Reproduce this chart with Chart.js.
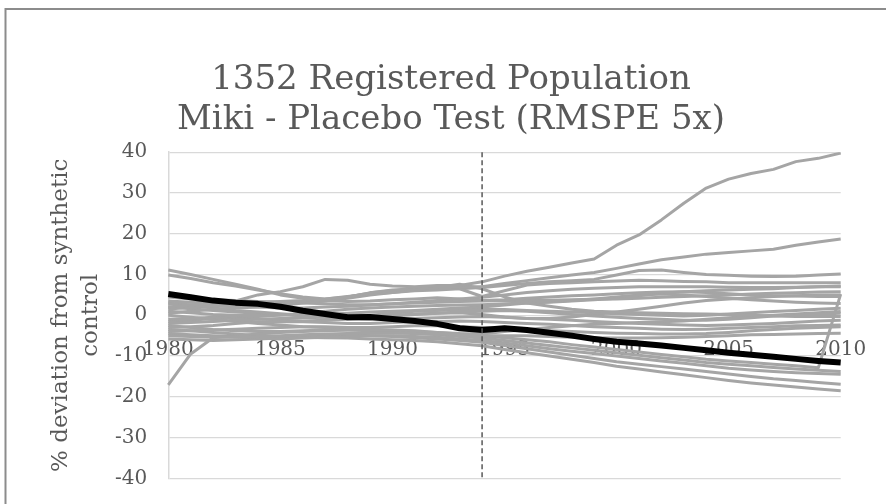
<!DOCTYPE html>
<html>
<head>
<meta charset="utf-8">
<script src="https://cdn.jsdelivr.net/npm/chart.js@4/dist/chart.umd.min.js"></script>
<style>
  html, body { margin: 0; padding: 0; background: #fff; }
  canvas { display: block; }
</style>
</head>
<body>
<canvas id="myChart" width="886" height="504"></canvas>
<script>
// years on the horizontal axis
const years = [];
for (let y = 1980; y <= 2010; y++) years.push(y);

// treatment year, drawn as a dashed marker
const treatmentYear = 1994;

// y axis range / step
const yMin = -40;
const yMax = 40;
const yStep = 10;

// Miki: % deviation from its synthetic control
const miki = [5.2, 4.4, 3.6, 3.1, 2.8, 2.1, 1.1, 0.3, -0.5, -0.4, -0.9, -1.4, -2.1, -3.2, -3.6,
  -3.2, -3.6, -4.3, -5.0, -5.8, -6.5, -6.9, -7.4, -8.0, -8.6, -9.2, -9.7, -10.2, -10.7, -11.2, -11.6];

// placebo units (RMSPE within 5x)
const placebo01 = [2.0, 2.5, 3.0, 3.5, 5.0, 5.8, 7.0, 8.8, 8.6, 7.6, 7.2, 7.0, 7.3, 7.3, 8.2,
  9.6, 10.8, 11.8, 12.8, 13.8, 17.2, 19.7, 23.4, 27.5, 31.2, 33.4, 34.8, 35.8, 37.7, 38.5, 39.8];
const placebo02 = [11.1, 10.0, 8.8, 7.6, 6.4, 5.0, 4.2, 3.6, 3.4, 3.5, 3.8, 4.0, 4.3, 4.0, 3.6,
  3.8, 4.2, 4.5, 4.8, 5.0, 5.3, 5.5, 5.7, 5.8, 6.0, 6.2, 6.4, 6.5, 6.8, 7.0, 7.0];
const placebo03 = [9.9, 9.0, 8.0, 7.2, 6.2, 5.3, 4.5, 4.0, 4.5, 5.5, 6.2, 6.5, 6.8, 7.0, 7.0,
  7.8, 8.5, 9.2, 9.9, 10.5, 11.5, 12.6, 13.6, 14.3, 15.0, 15.4, 15.8, 16.2, 17.2, 18.0, 18.7];
const placebo04 = [3.5, 3.2, 3.0, 3.0, 3.2, 3.4, 3.6, 4.0, 4.6, 5.2, 5.6, 6.0, 6.2, 6.5, 6.8,
  7.3, 7.8, 8.2, 8.5, 8.8, 9.9, 11.0, 11.1, 10.5, 10.0, 9.8, 9.6, 9.5, 9.6, 9.9, 10.1];
const placebo05 = [1.5, 2.0, 2.4, 2.2, 2.6, 3.0, 3.2, 3.5, 4.5, 5.5, 6.0, 6.4, 6.8, 6.5, 4.6,
  6.0, 7.4, 7.8, 8.0, 8.2, 8.4, 8.6, 8.5, 8.3, 8.2, 8.0, 8.0, 8.0, 8.0, 8.0, 8.0];
const placebo06 = [0.5, 1.0, 1.5, 1.8, 2.0, 2.4, 3.0, 3.6, 4.2, 5.0, 5.6, 6.2, 6.8, 7.6, 6.5,
  4.5, 3.0, 2.2, 1.5, 1.0, 0.8, 0.6, 0.5, 0.4, 0.3, 0.2, 0.0, -0.2, -0.3, -0.3, -0.3];
const placebo07 = [2.8, 2.6, 2.4, 2.2, 2.0, 1.8, 1.8, 2.0, 2.2, 2.5, 2.8, 3.0, 3.2, 3.4, 3.5,
  3.6, 3.6, 3.7, 3.8, 3.9, 4.0, 4.2, 4.4, 4.6, 4.8, 5.0, 5.2, 5.4, 5.5, 5.7, 5.8];
const placebo08 = [1.0, 0.6, 0.2, 0.0, -0.2, 0.0, 0.5, 1.0, 1.5, 1.8, 2.0, 2.2, 2.4, 2.5, 2.6,
  2.8, 3.0, 3.2, 3.5, 3.8, 4.2, 4.8, 5.4, 5.8, 5.6, 5.3, 5.0, 4.8, 4.7, 4.6, 4.6];
const placebo09 = [-1.0, -0.8, -0.5, -0.2, 0.0, 0.2, 0.2, 0.3, 0.5, 0.8, 1.0, 1.2, 1.5, 1.8, 2.0,
  2.5, 3.0, 3.3, 3.6, 4.0, 4.5, 5.0, 5.2, 5.0, 4.6, 4.2, 3.8, 3.5, 3.2, 3.0, 2.9];
const placebo10 = [2.0, 1.6, 1.2, 0.8, 0.5, 0.2, -0.2, -0.5, -0.4, 0.0, 0.5, 1.0, 1.2, 1.4, 1.5,
  1.4, 1.2, 1.0, 0.8, 0.6, 0.4, 0.2, 0.0, -0.2, 0.0, 0.3, 0.6, 0.9, 1.2, 1.5, 1.7];
const placebo11 = [-2.0, -1.8, -1.5, -1.2, -1.0, -0.8, -0.6, -0.5, -0.3, -0.2, 0.0, 0.3, 0.5, 0.8, 1.0,
  1.2, 1.0, 0.6, 0.2, -0.2, -0.5, -0.8, -1.0, -1.2, -1.2, -1.0, -0.6, -0.2, 0.1, 0.3, 0.5];
const placebo12 = [3.0, 2.4, 1.8, 1.2, 0.8, 0.4, 0.0, -0.4, -0.8, -1.0, -1.0, -0.8, -0.6, -0.4, -0.3,
  -0.5, -0.8, -1.0, -1.2, -1.5, -1.8, -2.0, -2.2, -2.4, -2.5, -2.4, -2.2, -2.0, -1.7, -1.4, -1.2];
const placebo13 = [-3.0, -2.8, -2.5, -2.0, -1.6, -1.5, -1.6, -1.8, -2.0, -2.0, -1.8, -1.6, -1.5, -1.4, -1.5,
  -1.8, -2.0, -2.2, -2.5, -2.8, -3.0, -3.2, -3.4, -3.5, -3.4, -3.2, -3.0, -2.8, -2.6, -2.5, -2.4];
const placebo14 = [-4.0, -3.8, -3.6, -3.4, -3.2, -3.0, -2.8, -2.8, -3.0, -3.0, -2.8, -2.6, -2.6, -2.8, -3.0,
  -3.2, -3.5, -3.8, -4.0, -4.2, -4.4, -4.5, -4.6, -4.6, -4.5, -4.2, -3.8, -3.5, -3.2, -3.0, -2.8];
const placebo15 = [-5.0, -5.2, -5.4, -5.4, -5.2, -5.0, -4.8, -4.6, -4.5, -4.4, -4.4, -4.5, -4.6, -4.8, -5.0,
  -5.0, -5.0, -5.2, -5.4, -5.5, -5.6, -5.6, -5.5, -5.4, -5.2, -5.0, -4.8, -4.7, -4.6, -4.5, -4.4];
const placebo16 = [-17.1, -9.5, -5.5, -5.0, -4.6, -4.2, -4.0, -3.8, -3.6, -3.6, -3.8, -4.0, -4.2, -4.5, -4.6,
  -4.0, -3.5, -3.0, -2.6, -2.2, -2.0, -1.8, -1.6, -1.4, -1.0, -0.6, -0.3, 0.0, 0.3, 0.6, 0.9];
const placebo17 = [0.0, -0.5, -1.0, -1.5, -2.0, -2.4, -2.8, -3.0, -3.2, -3.4, -3.6, -3.8, -4.2, -4.6, -5.0,
  -5.5, -6.0, -6.5, -7.2, -7.8, -8.4, -9.0, -9.6, -10.2, -10.8, -11.2, -11.6, -12.0, -12.4, -12.9, 5.2];
const placebo18 = [-2.5, -3.0, -3.5, -3.8, -4.0, -4.0, -3.8, -3.6, -3.6, -3.8, -4.0, -4.4, -4.8, -5.2, -5.6,
  -6.2, -6.8, -7.4, -8.0, -8.6, -9.2, -9.8, -10.4, -11.0, -11.6, -12.0, -12.4, -12.8, -13.2, -13.5, -13.8];
const placebo19 = [-4.5, -4.8, -5.0, -5.2, -5.6, -5.8, -5.6, -5.4, -5.2, -5.0, -5.0, -5.2, -5.4, -5.8, -6.2,
  -6.8, -7.5, -8.2, -8.8, -9.4, -10.0, -10.6, -11.2, -11.8, -12.4, -13.0, -13.4, -13.8, -14.1, -14.3, -14.5];
const placebo20 = [-3.5, -3.8, -4.2, -4.6, -5.0, -5.2, -5.0, -4.8, -4.8, -5.0, -5.2, -5.5, -5.8, -6.2, -6.6,
  -7.4, -8.2, -9.0, -9.8, -10.6, -11.4, -12.0, -12.6, -13.2, -13.8, -14.4, -15.0, -15.6, -16.0, -16.5, -16.9];
const placebo21 = [-5.8, -6.0, -6.2, -6.0, -5.8, -5.6, -5.4, -5.5, -5.6, -5.8, -6.0, -6.2, -6.5, -7.0, -7.5,
  -8.4, -9.2, -10.0, -10.8, -11.6, -12.5, -13.2, -13.9, -14.6, -15.3, -16.0, -16.6, -17.1, -17.6, -18.1, -18.5];
const placebo22 = [-1.5, -1.2, -0.8, -0.5, -0.8, -1.2, -1.4, -1.2, -1.0, -0.6, -0.2, 0.2, 0.5, 0.6, 0.2,
  -0.4, -0.8, -0.8, -0.4, 0.2, 0.8, 1.5, 2.2, 3.0, 3.6, 4.0, 4.3, 4.6, 4.8, 5.0, 5.0];
const placebo23 = [4.5, 4.0, 3.8, 3.6, 3.4, 3.2, 3.0, 2.8, 2.6, 2.6, 2.8, 3.2, 3.6, 4.0, 4.4,
  5.0, 5.6, 6.0, 6.4, 6.6, 6.8, 7.0, 7.0, 7.0, 7.0, 6.9, 6.8, 6.8, 6.9, 7.0, 7.2];

const placeboSeries = [placebo01, placebo02, placebo03, placebo04, placebo05, placebo06, placebo07, placebo08,
  placebo09, placebo10, placebo11, placebo12, placebo13, placebo14, placebo15, placebo16, placebo17, placebo18,
  placebo19, placebo20, placebo21, placebo22, placebo23];

const serif = "'DejaVu Serif', 'Liberation Serif', serif";
const textColor = "#595959";
const gridColor = "#d9d9d9";

// Miki first so it sits on top of the grey lines
const datasets = [{
  label: "Miki",
  data: miki,
  borderColor: "#000000",
  borderWidth: 6,
  pointRadius: 0,
  tension: 0,
  borderJoinStyle: "round",
}];
placeboSeries.forEach((vals, i) => {
  datasets.push({
    label: "placebo " + (i + 1),
    data: vals,
    borderColor: "#a5a5a5",
    borderWidth: 3,
    pointRadius: 0,
    tension: 0,
    borderJoinStyle: "round",
  });
});

// dashed vertical marker + the thin frame round the chart
const markerPlugin = {
  id: "treatmentMarker",
  beforeDraw(chart) {
    const ctx = chart.ctx;
    ctx.save();
    ctx.strokeStyle = "#8c8c8c";
    ctx.lineWidth = 2;
    ctx.beginPath();
    ctx.moveTo(5.5, chart.height);
    ctx.lineTo(5.5, 9);
    ctx.lineTo(chart.width, 9);
    ctx.stroke();
    ctx.restore();
  },
  afterDatasetsDraw(chart) {
    const { ctx, chartArea, scales } = chart;
    const x = scales.x.getPixelForValue(years.indexOf(treatmentYear));
    ctx.save();
    ctx.strokeStyle = "#595959";
    ctx.lineWidth = 1.5;
    ctx.setLineDash([5, 3]);
    ctx.beginPath();
    ctx.moveTo(x, chartArea.top);
    ctx.lineTo(x, chartArea.bottom);
    ctx.stroke();
    ctx.restore();
  },
};

const ctx = document.getElementById("myChart").getContext("2d");
const myChart = new Chart(ctx, {
  type: "line",
  data: {
    labels: years,
    datasets: datasets,
  },
  options: {
    responsive: false,
    animation: false,
    events: [],
    layout: { padding: { left: 16, right: 0, top: 0, bottom: 25.7 } },
    plugins: {
      legend: { display: false },
      tooltip: { enabled: false },
      title: {
        display: true,
        text: ["1352 Registered Population", "Miki - Placebo Test (RMSPE 5x)"],
        color: textColor,
        font: { family: serif, size: 34, weight: "normal", lineHeight: 1.18 },
        padding: { top: 60, bottom: 12 },
      },
    },
    scales: {
      x: {
        position: { y: -5 },
        grid: { display: false, drawTicks: false },
        border: { display: false },
        ticks: {
          autoSkip: false,
          maxRotation: 0,
          padding: 2,
          color: textColor,
          font: { family: serif, size: 20 },
          callback: function (value, index) {
            const yr = years[index];
            return yr % 5 === 0 ? String(yr) : "";
          },
        },
      },
      y: {
        min: yMin,
        max: yMax,
        afterFit(scale) { scale.width = 152.3; },
        grid: { color: gridColor, lineWidth: 1.3, drawTicks: true, tickLength: 19, tickColor: "rgba(0,0,0,0)" },
        border: { display: true, color: gridColor, width: 1.5 },
        ticks: {
          stepSize: yStep,
          padding: 2,
          color: textColor,
          font: { family: serif, size: 20 },
        },
        title: {
          display: true,
          text: ["% deviation from synthetic", "control"],
          color: textColor,
          font: { family: serif, size: 23, lineHeight: 1.3 },
          padding: { top: 30, bottom: 0 },
        },
      },
      yRight: {
        position: "right",
        min: yMin,
        max: yMax,
        afterFit(scale) { scale.width = 45.3; },
        grid: { display: false, drawTicks: false },
        border: { display: false },
        ticks: { display: false },
      },
    },
  },
  plugins: [markerPlugin],
});
</script>
</body>
</html>
